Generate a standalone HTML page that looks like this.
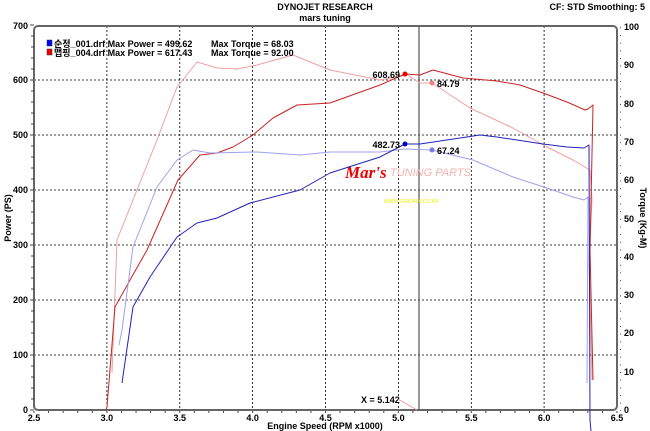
<!DOCTYPE html>
<html><head><meta charset="utf-8"><style>
html,body{margin:0;padding:0;background:#fff;}
svg{display:block;font-family:"Liberation Sans","Noto Sans CJK KR",sans-serif;}
</style></head><body>
<svg width="650" height="431" viewBox="0 0 650 431" xmlns="http://www.w3.org/2000/svg">
<defs>
<pattern id="pr" x="0" y="410.3" width="5" height="7.66" patternUnits="userSpaceOnUse"><line x1="0" y1="0.5" x2="3" y2="0.5" stroke="#444" stroke-width="1"/></pattern>
<pattern id="pb" x="33.5" y="0" width="14.575" height="5" patternUnits="userSpaceOnUse"><line x1="0.5" y1="0" x2="0.5" y2="3" stroke="#444" stroke-width="1"/></pattern>
</defs>
<rect width="650" height="431" fill="#fff"/>
<text x="325" y="10" font-size="9" font-weight="bold" text-anchor="middle">DYNOJET RESEARCH</text>
<text x="325" y="21" font-size="9" font-weight="bold" text-anchor="middle">mars tuning</text>
<text x="645" y="10" font-size="9" font-weight="bold" text-anchor="end">CF: STD  Smoothing: 5</text>
<g stroke="#000" stroke-width="0.8" stroke-dasharray="2,2" fill="none">
<line x1="106.9" y1="26" x2="106.9" y2="410"/><line x1="179.8" y1="26" x2="179.8" y2="410"/>
<line x1="252.6" y1="26" x2="252.6" y2="410"/><line x1="325.5" y1="26" x2="325.5" y2="410"/>
<line x1="398.4" y1="26" x2="398.4" y2="410"/><line x1="471.3" y1="26" x2="471.3" y2="410"/>
<line x1="544.1" y1="26" x2="544.1" y2="410"/>
<line x1="34" y1="80" x2="617" y2="80"/><line x1="34" y1="135" x2="617" y2="135"/>
<line x1="34" y1="190" x2="617" y2="190"/><line x1="34" y1="245" x2="617" y2="245"/>
<line x1="34" y1="300" x2="617" y2="300"/><line x1="34" y1="355" x2="617" y2="355"/>
</g>
<rect x="34" y="26" width="583" height="384" rx="4" fill="none" stroke="#666" stroke-width="2"/>
<g stroke="#444" stroke-width="1">
<path d="M34 410h-4M34 399h-3M34 388h-3M34 377h-3M34 366h-3M34 355h-4M34 344h-3M34 333h-3M34 322h-3M34 311h-3M34 300h-4M34 289h-3M34 278h-3M34 267h-3M34 256h-3M34 245h-4M34 234h-3M34 223h-3M34 212h-3M34 201h-3M34 190h-4M34 179h-3M34 168h-3M34 157h-3M34 146h-3M34 135h-4M34 124h-3M34 113h-3M34 102h-3M34 91h-3M34 80h-4M34 69h-3M34 58h-3M34 47h-3M34 36h-3M34 25h-4"/>
</g>
<rect x="618" y="26" width="3" height="385" fill="url(#pr)"/>
<rect x="33.5" y="411" width="585" height="3" fill="url(#pb)"/>
<g font-size="9" font-weight="bold" text-anchor="end">
<text x="28" y="413">0</text><text x="28" y="358">100</text><text x="28" y="303">200</text><text x="28" y="248">300</text><text x="28" y="193">400</text><text x="28" y="138">500</text><text x="28" y="83">600</text><text x="28" y="29">700</text>
</g>
<g font-size="9" font-weight="bold">
<text x="624" y="413">0</text><text x="624" y="375">10</text><text x="624" y="336">20</text><text x="624" y="298">30</text><text x="624" y="260">40</text><text x="624" y="222">50</text><text x="624" y="183">60</text><text x="624" y="145">70</text><text x="624" y="107">80</text><text x="624" y="68">90</text><text x="624" y="30">100</text>
</g>
<g font-size="9" font-weight="bold" text-anchor="middle">
<text x="34" y="421">2.5</text><text x="106.9" y="421">3.0</text><text x="179.8" y="421">3.5</text><text x="252.6" y="421">4.0</text><text x="325.5" y="421">4.5</text><text x="398.4" y="421">5.0</text><text x="471.3" y="421">5.5</text><text x="544.1" y="421">6.0</text><text x="617" y="421">6.5</text>
<text x="325" y="429">Engine Speed (RPM x1000)</text>
</g>
<text transform="translate(11,218) rotate(-90)" font-size="9" font-weight="bold" text-anchor="middle">Power (PS)</text>
<text transform="translate(640,218) rotate(90)" font-size="9" font-weight="bold" text-anchor="middle">Torque (Kg-M)</text>
<line x1="419" y1="26" x2="419" y2="410" stroke="#555" stroke-width="1.2"/>
<text x="361" y="403" font-size="9" font-weight="bold">X = 5.142</text>
<line x1="398" y1="399" x2="417" y2="410" stroke="#e99" stroke-width="0.8"/>
<text x="345" y="178" font-size="17" font-weight="bold" font-style="italic" fill="#e00" font-family="Liberation Serif,serif">Mar's</text>
<text x="390" y="176" font-size="11" font-style="italic" fill="#f4b0b0">TUNING PARTS</text>
<text x="384" y="203" font-size="5" fill="#ee0">WWW.ZERO400.CO.KR</text>
<g fill="none" stroke-width="1" stroke-linejoin="round">
<polyline stroke="#f0a0a0" points="112,373 117,240 133,200 157,140 177,87 197,62 217,68 237,69 257,65 293,55 330,70 380,80 407,75 420,83 432,83 470,108 513,128 547,147 573,160 590,170 592,200 589,260 592,380"/>
<polyline stroke="#cc2222" points="106,410 107,407 115,307 130,280 147,250 178,180 200,155 217,153 233,147 253,135 273,118 297,105 330,103 380,85 405,74 420,75 433,70 463,78 497,81 520,85 543,93 567,102 585,110 588,109 593,105 590,250 593,380"/>
<polyline stroke="#a0a0ee" points="119,345 122,330 133,247 157,187 177,160 193,150 210,153 257,152 300,155 330,152 380,152 405,149 432,150 473,160 513,177 547,188 573,197 584,200 588,197 587,383"/>
<polyline stroke="#2222bb" points="122,383 133,307 150,277 177,237 197,223 217,218 250,203 300,190 330,173 380,157 405,144 420,144 480,135 497,137 543,144 567,147 584,148 589,145 590,420 591,431"/>
</g>
<circle cx="405" cy="74" r="2.5" fill="#e00"/><circle cx="432" cy="83" r="2.5" fill="#f08080"/>
<circle cx="405" cy="144" r="2.5" fill="#00c"/><circle cx="432" cy="150" r="2.5" fill="#7777ee"/>
<g font-size="9" font-weight="bold">
<text x="400" y="78" text-anchor="end">608.69</text><text x="437" y="87">84.79</text>
<text x="400" y="148" text-anchor="end">482.73</text><text x="437" y="154">67.24</text>
</g>
<rect x="47" y="40" width="5" height="6" fill="#00f" stroke="#333" stroke-width="0.5"/>
<rect x="47" y="49" width="5" height="6" fill="#e00" stroke="#333" stroke-width="0.5"/>
<g font-size="9" font-weight="bold">
<text x="54" y="47">순정_001.drf Max Power = 499.62</text><text x="211" y="47">Max Torque = 68.03</text>
<text x="54" y="56">맵핑_004.drf Max Power = 617.43</text><text x="211" y="56">Max Torque = 92.00</text>
</g>
</svg>
</body></html>
